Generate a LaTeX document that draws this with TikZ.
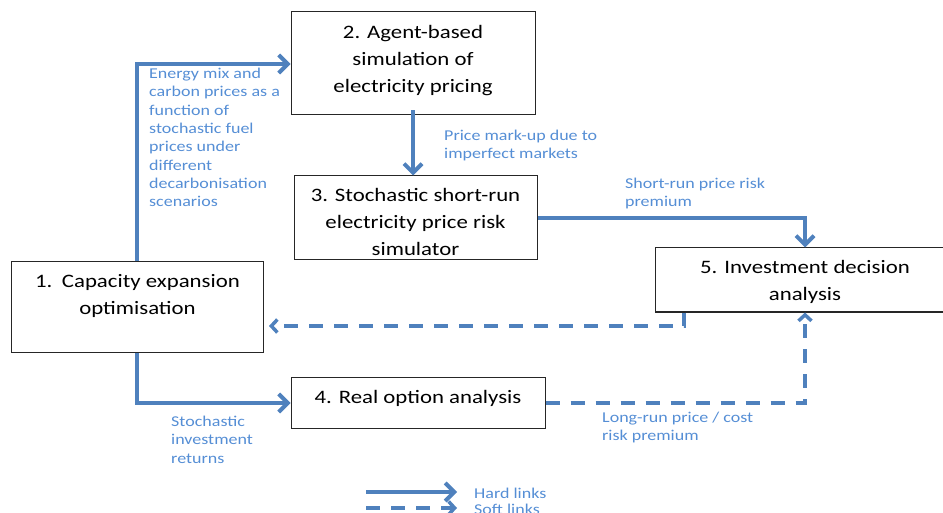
\documentclass[tikz,border=0pt]{standalone}
\usepackage{fontspec}
\setmainfont{Carlito}[FakeStretch=1.2]
\usetikzlibrary{arrows.meta}
\definecolor{lnk}{HTML}{4F81BD}
\definecolor{lbl}{HTML}{558ED5}
\tikzset{
  box/.style={draw=black!85, line width=1pt, inner sep=0pt},
  boxtext/.style={font=\fontsize{19}{27}\selectfont, align=center, inner sep=0pt, text=black},
  lbltext/.style={font=\fontsize{15}{18.3}\selectfont, align=left, inner sep=0pt, text=lbl, anchor=north west},
  hard/.style={draw=lnk, line width=4pt, -{Straight Barb[length=9pt,width=18pt]}},
  soft/.style={draw=lnk, line width=3.5pt, dash pattern=on 14pt off 11pt, -{Straight Barb[length=6pt,width=13pt]}},
}
\begin{document}
\begin{tikzpicture}[x=1pt,y=-1pt]
\useasboundingbox (0,0) rectangle (943,513);
\clip (0,0) rectangle (943,513);
% boxes
\node[box, minimum width=244pt, minimum height=103pt] (b2) at (413,63.5) {};
\node[box, minimum width=243pt, minimum height=84pt] (b3) at (415.5,218) {};
\node[box, minimum width=252pt, minimum height=90pt] (b1) at (137.5,307) {};
\node[box, minimum width=300pt, minimum height=64pt] (b5) at (805,280) {};
\node[box, minimum width=254pt, minimum height=51pt] (b4) at (418,402.5) {};
% box texts
\node[boxtext] (t2) at (b2.center) [yshift=3pt] {2. Agent-based\\simulation of\\electricity pricing};
\node[boxtext] (t3) at (b3.center) [yshift=-4pt] {3. Stochastic short-run\\electricity price risk\\simulator};
\node[boxtext] (t1) at (b1.center) [yshift=11pt] {1.\enspace Capacity expansion\\optimisation};
\node[boxtext] (t5) at (b5.center) [yshift=-2pt] {5. Investment decision\\analysis};
\node[boxtext] (t4) at (b4.center) [yshift=4pt] {4. Real option analysis};
% coordinates
\coordinate (c1) at (137,64);
\coordinate (c2) at (805,218);
\coordinate (c3) at (137,403);
\coordinate (c4) at (805,403);
\coordinate (c5) at (684,326);
% hard links
\draw[hard] (b1.north -| c1) -- (c1) -- (c1 -| b2.west);
\draw[hard] ([yshift=5pt]b2.south) -- (b2.south |- b3.north);
\draw[hard] (b3.east |- c2) -- (c2) -- (c2 |- b5.north);
\draw[hard] (b1.south -| c3) -- (c3) -- (c3 -| b4.west);
% soft links
\draw[soft, shorten >=5pt] (b5.south -| c5) -- (c5) -- (c5 -| b1.east);
\draw[soft] (b4.east |- c4) -- (c4) -- (c4 |- b5.south);
% labels
\node[lbltext] (l1) at (149,68) {Energy mix and\\carbon prices as a\\function of\\stochastic fuel\\prices under\\different\\decarbonisation\\scenarios};
\node[lbltext] (l2) at (444,130) {Price mark-up due to\\imperfect markets};
\node[lbltext] (l3) at (625,178) {Short-run price risk\\premium};
\node[lbltext] (l4) at (171,416) {Stochastic\\investment\\returns};
\node[lbltext] (l5) at (602,412) {Long-run price / cost\\risk premium};
% legend
\coordinate (h0) at (366,492);
\coordinate (h1) at (457,492);
\coordinate (s0) at (366,508);
\coordinate (s1) at (457,508);
\draw[hard] (h0) -- (h1);
\draw[soft] (s0) -- (s1);
\node[lbltext, anchor=west] (lh) at (474,493) {Hard links};
\node[lbltext, anchor=west] (ls) at (474,509) {Soft links};
\end{tikzpicture}
\end{document}
